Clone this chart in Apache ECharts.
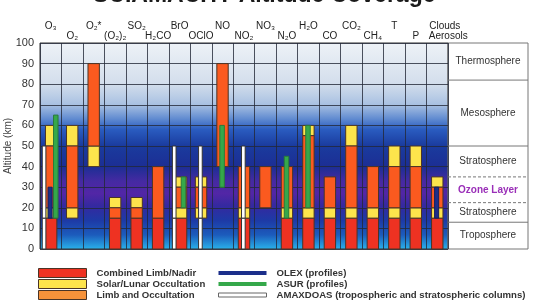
<!DOCTYPE html>
<html>
<head>
<meta charset="utf-8">
<script src="https://cdn.jsdelivr.net/npm/echarts@6/dist/echarts.min.js"></script>
<style>html,body{margin:0;background:#fff}#chart{width:533px;height:303px}</style>
</head>
<body>
<div id="chart"></div>
<script>
const topLabels = ['O₃', '', 'O₂*', '', 'SO₂', '', 'BrO', '', 'NO', '', 'NO₃', '', 'H₂O', '', 'CO₂', '', 'T', '', 'Clouds'];
const bottomLabels = ['', 'O₂', '', '(O₂)₂', '', 'H₂CO', '', 'OClO', '', 'NO₂', '', 'N₂O', '', 'CO', '', 'CH₄', '', 'P', 'Aerosols'];
const altTicks = [0, 10, 20, 30, 40, 50, 60, 70, 80, 90, 100];

// [column, from km, to km]
const combinedLimbNadir = [[0, 0, 15], [3, 0, 15], [4, 0, 15], [5, 0, 15], [6, 0, 15], [9, 0, 15], [11, 0, 15], [12, 0, 15],
  [13, 0, 15], [14, 0, 15], [15, 0, 15], [16, 0, 15], [17, 0, 15], [18, 0, 15]];
const solarLunar = [[0, 15, 20], [0, 50, 60], [1, 15, 20], [1, 50, 60], [2, 40, 50], [3, 20, 25], [4, 20, 25], [6, 15, 20], [6, 30, 35],
  [7, 15, 20], [7, 30, 35], [9, 15, 20], [11, 15, 20], [12, 15, 20], [12, 55, 60], [13, 15, 20], [14, 15, 20], [14, 50, 60],
  [15, 15, 20], [16, 15, 20], [16, 40, 50], [17, 15, 20], [17, 40, 50], [18, 15, 20], [18, 30, 35]];
const limbOccultation = [[0, 20, 50], [1, 20, 50], [2, 50, 90], [3, 15, 20], [4, 15, 20], [5, 15, 40], [6, 20, 30], [7, 20, 30],
  [8, 40, 90], [9, 20, 40], [10, 20, 40], [11, 20, 40], [12, 20, 55], [13, 20, 35], [14, 20, 50], [15, 20, 40], [16, 20, 40],
  [17, 20, 40], [18, 20, 30]];
const olex = [[0, 15, 30], [18, 15, 30]];
const asur = [[0, 15, 65], [6, 20, 35], [8, 30, 60], [11, 15, 45], [12, 20, 60]];
const amaxdoas = [[0, 0, 15], [0, 15, 50], [6, 0, 15], [6, 15, 50], [7, 0, 15], [7, 15, 50], [9, 0, 15], [9, 15, 50]];

const zoneNames = ['Troposphere', 'Stratosphere', 'Ozone Layer', 'Stratosphere', 'Mesosphere', 'Thermosphere'];
const zoneFrom = [0, 13, 22.5, 35, 50, 82];
const zoneTo = [13, 22.5, 35, 50, 82, 100];

const FONT = 'Liberation Sans';
const EDGE = '#4a3426';

// where a bar sits inside its column (fraction of column width)
function shiftFor(kind, col) {
  if (kind === 'amaxdoas') return col === 0 ? -0.31 : (col === 6 ? -0.25 : -0.03);
  if (kind === 'asur') return col === 0 ? 0.235 : (col === 6 ? 0.18 : -0.02);
  if (kind === 'main') return col === 6 ? 0.07 : (col === 0 ? 0.02 : 0);
  return -0.03;
}

function barRenderer(kind, color, widthFrac, stroke) {
  return function (params, api) {
    const col = api.value(0);
    const band = api.size([1, 0])[0];
    const lo = api.coord([col, api.value(1)]);
    const hi = api.coord([col, api.value(2)]);
    const w = band * widthFrac;
    const cx = lo[0] + band * shiftFor(kind, col);
    return {
      type: 'rect',
      shape: { x: cx - w / 2, y: hi[1], width: w, height: lo[1] - hi[1] },
      style: { fill: color, stroke: stroke, lineWidth: 1 }
    };
  };
}

function barSeries(name, data, kind, color, widthFrac, stroke) {
  return {
    name: name,
    type: 'custom',
    xAxisIndex: 0,
    yAxisIndex: 0,
    data: data,
    encode: { x: 0, y: [1, 2] },
    itemStyle: { color: color },
    renderItem: barRenderer(kind, color, widthFrac, stroke),
    silent: true
  };
}

// the last column's names sit to the right, starting near the column edge
function colLabel(v) {
  if (v === 'Clouds') return '{c|' + v + '}';
  if (v === 'Aerosols') return '{a|' + v + '}';
  return v;
}
const labelRich = { c: { padding: [0, 0, 0, 15] }, a: { padding: [0, 0, 0, 22] } };

const legendText = { fontFamily: FONT, fontSize: 9.6, fontWeight: 'bold', color: '#333', lineHeight: 10, padding: [0, 0, 0, 5] };

const chart = echarts.init(document.getElementById('chart'));

chart.setOption({
  animation: false,
  title: {
    text: 'SCIAMACHY Altitude Coverage',
    left: 88,
    top: -21,
    textStyle: { fontFamily: FONT, fontSize: 23, fontWeight: 'bold', color: '#1a1a1a' }
  },
  grid: [
    {
      left: 40, right: 85, top: 43, bottom: 54,
      outerBoundsMode: 'none',
      show: true,
      borderColor: '#333', borderWidth: 1,
      backgroundColor: {
        type: 'linear', x: 0, y: 0, x2: 0, y2: 1,
        colorStops: [
          { offset: 0, color: '#eef2f7' },
          { offset: 0.2, color: '#d3deec' },
          { offset: 0.3, color: '#a9c1e2' },
          { offset: 0.37, color: '#5f8ad0' },
          { offset: 0.42, color: '#2a5cc0' },
          { offset: 0.5, color: '#1a3b9e' },
          { offset: 0.6, color: '#1c2e94' },
          { offset: 0.67, color: '#452aa2' },
          { offset: 0.73, color: '#5226a6' },
          { offset: 0.79, color: '#3429a0' },
          { offset: 0.86, color: '#1d3aa6' },
          { offset: 0.93, color: '#1c5cbc' },
          { offset: 1, color: '#2ab4ec' }
        ]
      }
    },
    {
      left: 448, right: 5, top: 43, bottom: 54,
      outerBoundsMode: 'none',
      show: true, borderColor: '#777', borderWidth: 1, backgroundColor: '#fff'
    }
  ],
  xAxis: [
    {
      type: 'category', gridIndex: 0, position: 'top', data: topLabels,
      axisLine: { show: false }, axisTick: { show: false },
      axisLabel: { interval: 0, margin: 12, fontFamily: FONT, fontSize: 10, color: '#222', formatter: colLabel, rich: labelRich },
      splitLine: { show: true, lineStyle: { color: 'rgba(35,40,55,0.8)', width: 1 } }
    },
    {
      type: 'category', gridIndex: 0, position: 'top', data: bottomLabels,
      axisLine: { show: false }, axisTick: { show: false },
      axisLabel: { interval: 0, margin: 2, fontFamily: FONT, fontSize: 10, color: '#222', formatter: colLabel, rich: labelRich },
      splitLine: { show: false }
    },
    { type: 'value', gridIndex: 1, min: 0, max: 1, show: false }
  ],
  yAxis: [
    {
      type: 'value', gridIndex: 0, min: 0, max: 100, interval: 10,
      name: 'Altitude (km)', nameLocation: 'middle', nameGap: 27, nameMoveOverlap: false,
      nameTextStyle: { fontFamily: FONT, fontSize: 10, color: '#444' },
      axisLine: { show: false }, axisTick: { show: false },
      axisLabel: {
        margin: 6, fontFamily: FONT, fontSize: 11, color: '#333',
        formatter: v => (altTicks.indexOf(v) >= 0 ? String(v) : '')
      },
      splitLine: { show: true, lineStyle: { color: 'rgba(35,40,55,0.8)', width: 1 } }
    },
    { type: 'value', gridIndex: 1, min: 0, max: 100, show: false }
  ],
  legend: [
    {
      left: 38, top: 268, padding: 0, orient: 'vertical', itemWidth: 48, itemHeight: 9, itemGap: 1,
      selectedMode: false,
      textStyle: legendText,
      data: [
        { name: 'Combined Limb/Nadir', icon: 'rect', itemStyle: { color: '#ee3222', borderColor: EDGE, borderWidth: 1 } },
        { name: 'Solar/Lunar Occultation', icon: 'rect', itemStyle: { color: '#fde44c', borderColor: EDGE, borderWidth: 1 } },
        { name: 'Limb and Occultation', icon: 'rect', itemStyle: { color: '#f7923a', borderColor: EDGE, borderWidth: 1 } }
      ]
    },
    {
      left: 218, top: 268, padding: 0, orient: 'vertical', itemWidth: 48, itemHeight: 4, itemGap: 1,
      selectedMode: false,
      textStyle: legendText,
      data: [
        { name: 'OLEX (profiles)', icon: 'rect', itemStyle: { color: '#1b2e8a', borderColor: '#1b2e8a', borderWidth: 0 } },
        { name: 'ASUR (profiles)', icon: 'rect', itemStyle: { color: '#35a84a', borderColor: '#35a84a', borderWidth: 0 } },
        { name: 'AMAXDOAS (tropospheric and stratospheric columns)', icon: 'rect', itemStyle: { color: '#fff', borderColor: '#666', borderWidth: 1 } }
      ]
    }
  ],
  series: [
    barSeries('Combined Limb/Nadir', combinedLimbNadir, 'main', '#ee3222', 0.53, EDGE),
    barSeries('Solar/Lunar Occultation', solarLunar, 'main', '#fde44c', 0.53, EDGE),
    barSeries('Limb and Occultation', limbOccultation, 'main', '#fb5a1f', 0.53, EDGE),
    barSeries('AMAXDOAS (tropospheric and stratospheric columns)', amaxdoas, 'amaxdoas', '#ffffff', 0.17, '#333'),
    barSeries('OLEX (profiles)', olex, 'olex', '#1b2e8a', 0.19, '#142060'),
    barSeries('ASUR (profiles)', asur, 'asur', '#35a84a', 0.21, '#2a7a3a'),
    {
      type: 'custom',
      xAxisIndex: 2,
      yAxisIndex: 1,
      silent: true,
      data: zoneNames.map((n, i) => [i, zoneFrom[i], zoneTo[i]]),
      renderItem: function (params, api) {
        const i = params.dataIndex;
        const name = zoneNames[i];
        const a = api.coord([0, api.value(1)]);
        const b = api.coord([1, api.value(2)]);
        const children = [];
        if (i < zoneNames.length - 1) {
          const dashed = name === 'Ozone Layer' || zoneNames[i + 1] === 'Ozone Layer';
          children.push({
            type: 'line',
            shape: { x1: a[0], y1: b[1], x2: b[0], y2: b[1] },
            style: { stroke: '#777', lineWidth: 1, lineDash: dashed ? [3, 2] : null }
          });
        }
        const ozone = name === 'Ozone Layer';
        children.push({
          type: 'text',
          style: {
            x: (a[0] + b[0]) / 2, y: (a[1] + b[1]) / 2,
            text: name, align: 'center', verticalAlign: 'middle',
            fontFamily: FONT, fontSize: 10,
            fontWeight: ozone ? 'bold' : 'normal',
            fill: ozone ? '#9a2fb8' : '#333'
          }
        });
        return { type: 'group', children: children };
      }
    }
  ]
});
</script>
</body>
</html>
